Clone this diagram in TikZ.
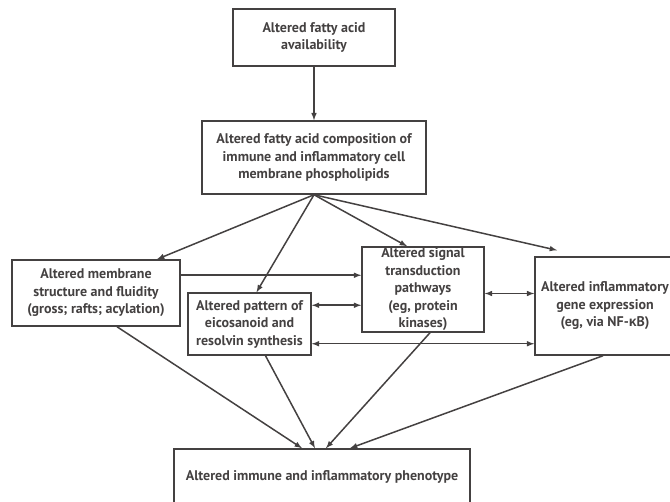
\documentclass[tikz,border=0pt]{standalone}
\usepackage{fontspec}
\setmainfont{PT Sans}
\newfontfamily\greekfont{Liberation Sans}
\newcommand*{\labelfont}{\fontsize{14}{17.5}\selectfont\bfseries}
\definecolor{ink}{cmyk}{0.00,0.00,0.00,0.85}
\usetikzlibrary{arrows}
\usetikzlibrary{positioning}
\tikzstyle{base}=[x=1pt, y=-1pt, >=latex, line width=1.5pt, ink]
\tikzstyle{box}=[draw, align=center, inner sep=0pt, font=\labelfont, text=ink]

\begin{document}
\begin{tikzpicture}[base]
    \clip (0,0) rectangle (670,502);
        \node [box, minimum width=162, minimum height=57] (avail) at (314,37.5)
            {Altered fatty acid\\availability};
        \node [box, minimum width=224, minimum height=73] (comp) at (314,157.5)
            {Altered fatty acid composition of\\immune and inflammatory cell\\membrane phospholipids};
        \node [box, minimum width=168, minimum height=66] (memb) at (96,293)
            {Altered membrane\\structure and fluidity\\(gross; rafts; acylation)};
        \node [box, minimum width=123, minimum height=62] (eico) at (249.5,324)
            {Altered pattern of\\eicosanoid and\\resolvin synthesis};
        \node [box, minimum width=122, minimum height=85] (sig) at (423,289.5)
            {Altered signal\\transduction\\pathways\\(eg, protein\\kinases)};
        \node [box, minimum width=140, minimum height=98] (gene) at (605,306)
            {Altered inflammatory\\gene expression\\(eg, via NF-{\greekfont κ}B)};
        \node [box, minimum width=296, minimum height=56] (pheno) at (322,477)
            {Altered immune and inflammatory phenotype};
        % top of the cascade
        \draw [->] (avail.south) -- (comp.north);
        \draw [->] (comp.south) -- ([xshift=61pt]memb.north);
        \draw [->] (comp.south) -- ([xshift=7pt]eico.north);
        \draw [->] (comp.south) -- ([xshift=-16pt]sig.north);
        \draw [->] (comp.south) -- ([xshift=-48pt, yshift=6pt]gene.north);
        % cross links
        \draw [->] ([yshift=-16pt]memb.north east) -- ([yshift=-16pt]memb.north east -| sig.west);
        \draw [<->] ([yshift=-13pt]eico.north east) -- ([yshift=-13pt]eico.north east -| sig.west);
        \draw [<->] ([yshift=-4pt]sig.east) -- ([yshift=-4pt]sig.east -| gene.west);
        \draw [<->] ([yshift=12pt]eico.south east) -- ([yshift=12pt]eico.south east -| gene.west);
        % into the phenotype
        \draw [->] ([xshift=21pt]memb.south) -- ([xshift=-20pt]pheno.north);
        \draw [->] ([xshift=16pt]eico.south) -- ([xshift=-7pt]pheno.north);
        \draw [->] ([xshift=7pt]sig.south) -- ([xshift=4pt]pheno.north);
        \draw [->] ([xshift=-2pt]gene.south) -- ([xshift=28pt]pheno.north);
\end{tikzpicture}
\end{document}
